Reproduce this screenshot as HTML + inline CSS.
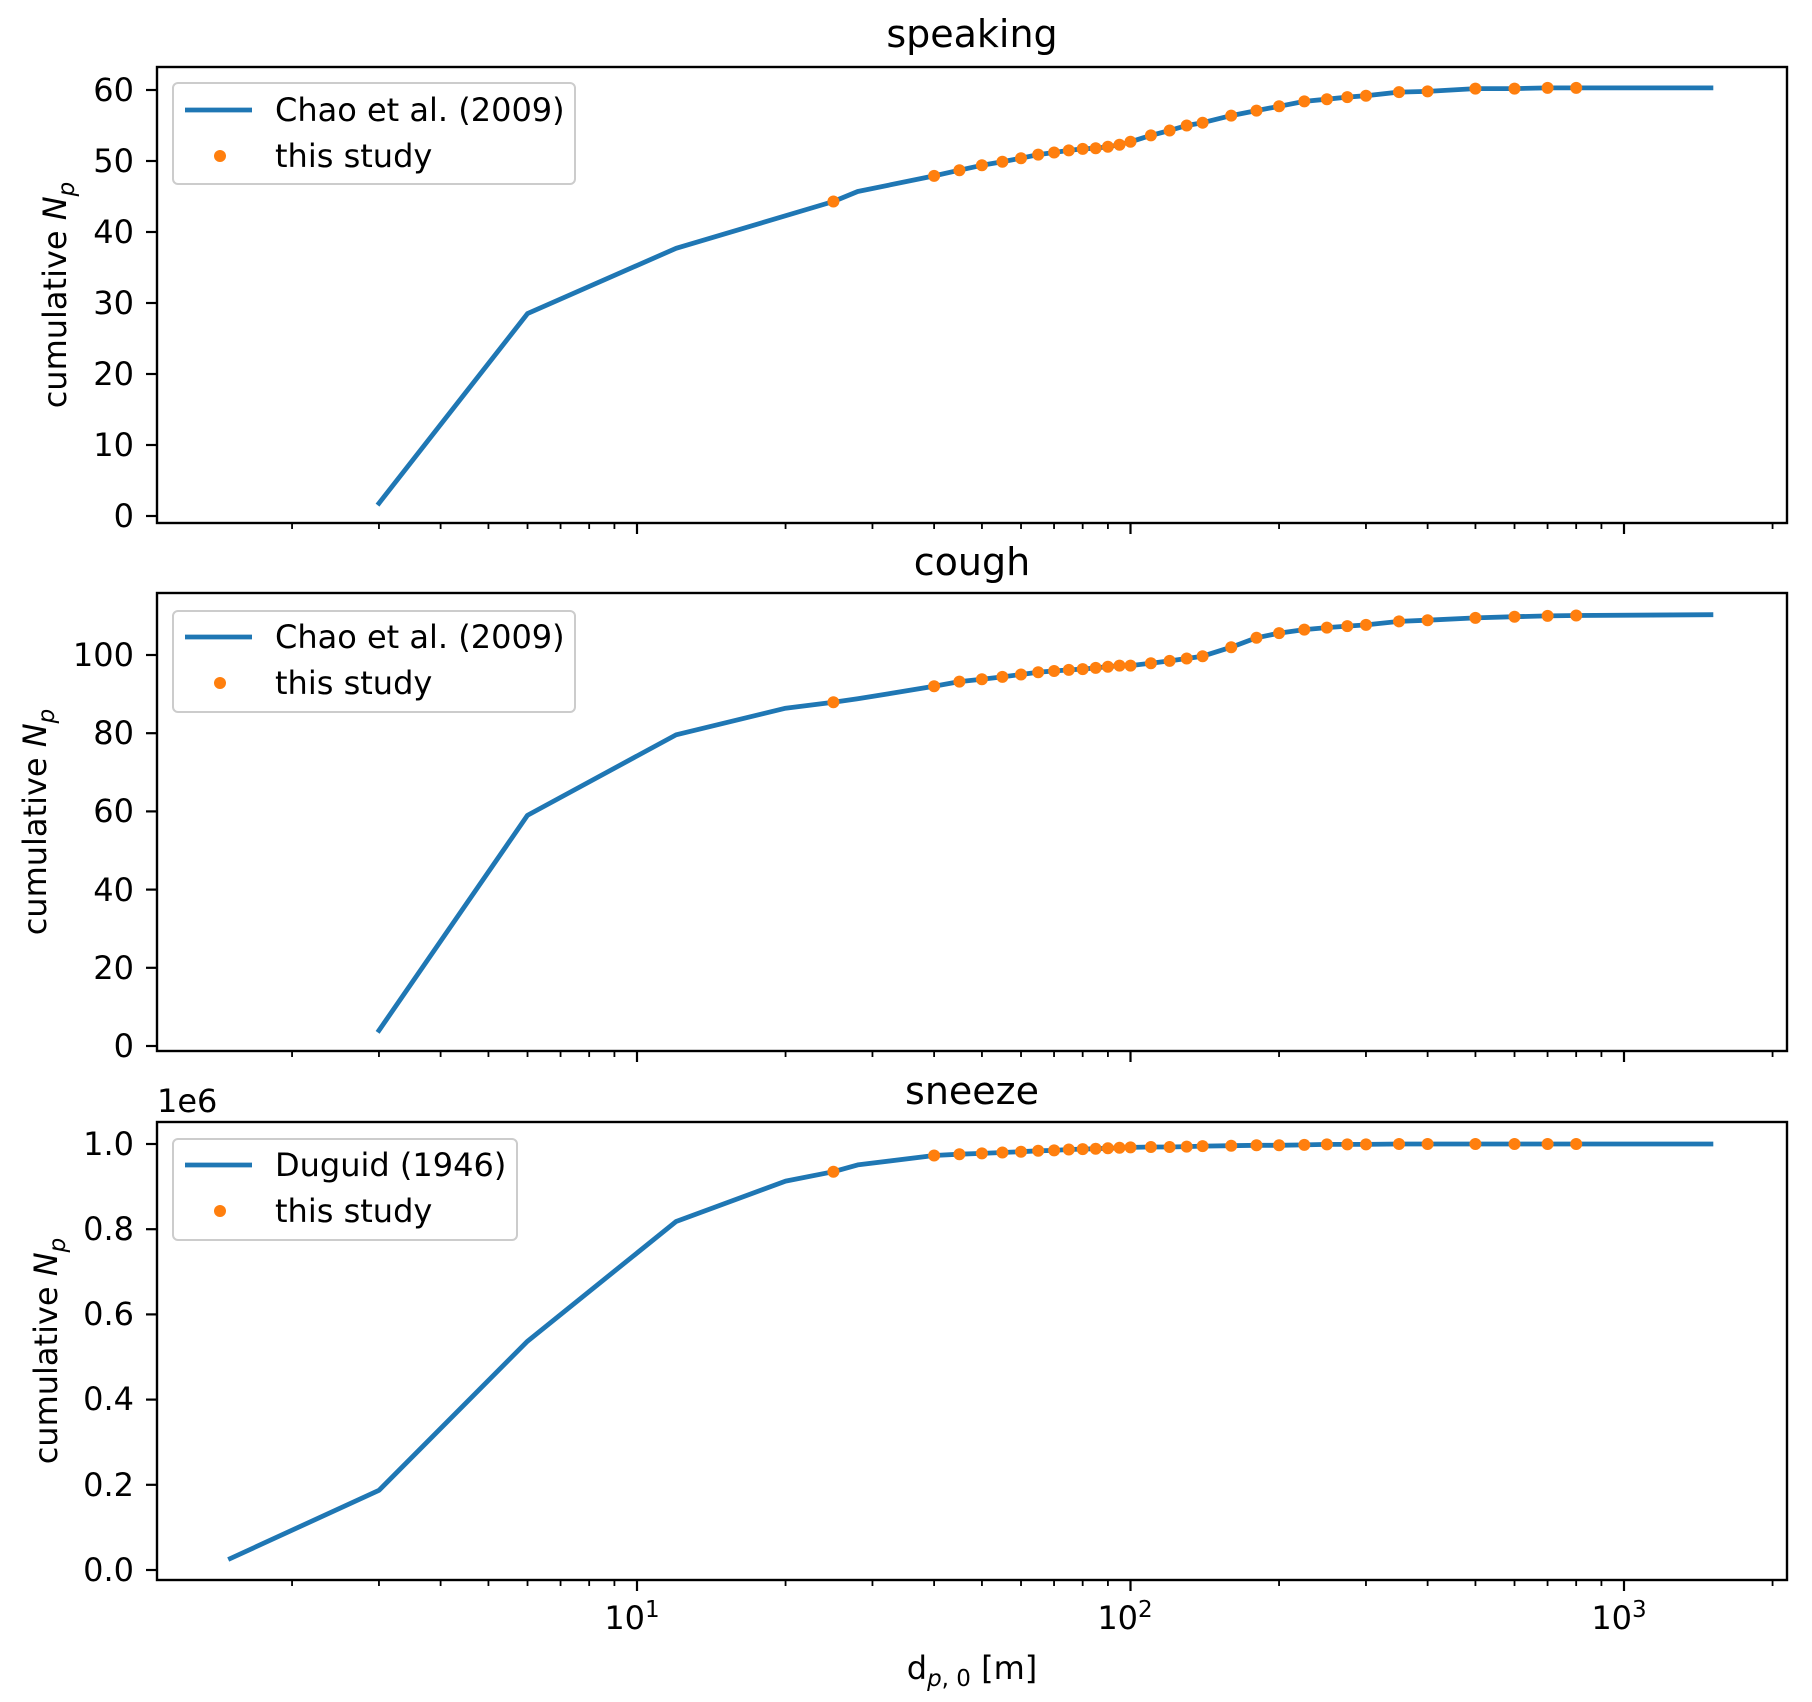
<!DOCTYPE html>
<html><head><meta charset="utf-8"><style>
html,body{margin:0;padding:0;background:#fff;}
svg{display:block;font-family:"DejaVu Sans","Liberation Sans",sans-serif;}
</style></head><body>
<svg id="s" width="1812" height="1702" viewBox="0 0 1812 1702" xmlns="http://www.w3.org/2000/svg">
<rect width="1812" height="1702" fill="#fff"/>
<g id="plots"></g>
<text x="972" y="47" font-size="38" text-anchor="middle" fill="#000">speaking</text>
<text x="972" y="575" font-size="38" text-anchor="middle" fill="#000">cough</text>
<text x="972" y="1104" font-size="38" text-anchor="middle" fill="#000">sneeze</text>
<text x="157" y="1112" font-size="32" fill="#000">1e6</text>
<g font-size="32" text-anchor="end" fill="#000">
<text x="134" y="101">60</text><text x="134" y="172">50</text><text x="134" y="243">40</text>
<text x="134" y="314">30</text><text x="134" y="385">20</text><text x="134" y="456">10</text><text x="134" y="527">0</text>
<text x="134" y="666">100</text><text x="134" y="744">80</text><text x="134" y="822">60</text>
<text x="134" y="901">40</text><text x="134" y="979">20</text><text x="134" y="1057">0</text>
<text x="134" y="1155">1.0</text><text x="134" y="1240">0.8</text><text x="134" y="1325">0.6</text>
<text x="134" y="1410">0.4</text><text x="134" y="1496">0.2</text><text x="134" y="1581">0.0</text>
</g>
<text transform="translate(66,295) rotate(-90)" font-size="32" text-anchor="middle" fill="#000">cumulative <tspan font-style="italic">N</tspan><tspan font-style="italic" font-size="23" dy="8">p</tspan></text>
<text transform="translate(46,822) rotate(-90)" font-size="32" text-anchor="middle" fill="#000">cumulative <tspan font-style="italic">N</tspan><tspan font-style="italic" font-size="23" dy="8">p</tspan></text>
<text transform="translate(57,1351) rotate(-90)" font-size="32" text-anchor="middle" fill="#000">cumulative <tspan font-style="italic">N</tspan><tspan font-style="italic" font-size="23" dy="8">p</tspan></text>
<g font-size="32" fill="#000" text-anchor="middle">
<text x="632" y="1629">10<tspan font-size="23" dy="-12">1</tspan></text>
<text x="1125" y="1629">10<tspan font-size="23" dy="-12">2</tspan></text>
<text x="1619" y="1629">10<tspan font-size="23" dy="-12">3</tspan></text>
</g>
<text x="972" y="1679" font-size="32" text-anchor="middle" fill="#000">d<tspan font-size="23" dy="7" font-style="italic">p</tspan><tspan font-size="23">, 0</tspan><tspan dy="-7"> [m]</tspan></text>
<g font-size="32" fill="#000">
<rect x="173" y="83" width="402" height="101" rx="5" fill="#fff" fill-opacity="0.8" stroke="#ccc" stroke-width="2"/>
<line x1="185" y1="110" x2="252" y2="110" stroke="#1f77b4" stroke-width="4.8"/>
<circle cx="220" cy="156" r="6" fill="#ff7f0e"/>
<text x="275" y="121">Chao et al. (2009)</text><text x="275" y="167">this study</text>
<rect x="173" y="611" width="402" height="101" rx="5" fill="#fff" fill-opacity="0.8" stroke="#ccc" stroke-width="2"/>
<line x1="185" y1="637" x2="252" y2="637" stroke="#1f77b4" stroke-width="4.8"/>
<circle cx="220" cy="683" r="6" fill="#ff7f0e"/>
<text x="275" y="648">Chao et al. (2009)</text><text x="275" y="694">this study</text>
<rect x="173" y="1139" width="344" height="101" rx="5" fill="#fff" fill-opacity="0.8" stroke="#ccc" stroke-width="2"/>
<line x1="185" y1="1165" x2="252" y2="1165" stroke="#1f77b4" stroke-width="4.8"/>
<circle cx="220" cy="1211" r="6" fill="#ff7f0e"/>
<text x="275" y="1176">Duguid (1946)</text><text x="275" y="1222">this study</text>
</g>
</svg>
<script>
(function(){
var NS="http://www.w3.org/2000/svg",g=document.getElementById('plots');
function el(n,a){var e=document.createElementNS(NS,n);for(var k in a)e.setAttribute(k,a[k]);g.appendChild(e);return e;}
function X(v){return 637+493.5*(Math.log10(v)-1);}
var L=157,R=1787;
var panels=[
 {top:67,bot:523,y:function(v){return 516-v*426/60;},ticks:[0,10,20,30,40,50,60],
  line:[[3,1.8],[6,28.5],[12,37.7],[25,44.3],[28,45.7],[40,47.9]],
  dots:[[25,44.3],[40,47.9],[45,48.7],[50,49.4],[55,49.9],[60,50.4],[65,50.9],[70,51.2],[75,51.5],[80,51.7],[85,51.8],[90,52],[95,52.3],[100,52.7],[110,53.6],[120,54.3],[130,55],[140,55.4],[160,56.4],[180,57.1],[200,57.7],[225,58.4],[250,58.7],[275,59],[300,59.2],[350,59.7],[400,59.8],[500,60.2],[600,60.2],[700,60.3],[800,60.3]],end:[1500,60.3]},
 {top:593,bot:1051,y:function(v){return 1046-v*3.91;},ticks:[0,20,40,60,80,100],
  line:[[3,4],[6,59],[12,79.6],[20,86.4],[25,87.9],[28,88.8],[40,92]],
  dots:[[25,87.9],[40,92],[45,93.2],[50,93.8],[55,94.4],[60,95],[65,95.6],[70,95.9],[75,96.2],[80,96.4],[85,96.7],[90,97],[95,97.3],[100,97.3],[110,97.9],[120,98.5],[130,99.1],[140,99.7],[160,102],[180,104.4],[200,105.6],[225,106.5],[250,107],[275,107.4],[300,107.7],[350,108.6],[400,108.9],[500,109.5],[600,109.8],[700,110],[800,110.1]],end:[1500,110.3]},
 {top:1122,bot:1580,y:function(v){return 1570-426*v;},ticks:[0,0.2,0.4,0.6,0.8,1.0],
  line:[[1.5,0.027],[3,0.187],[6,0.537],[12,0.818],[20,0.913],[25,0.935],[28,0.951],[40,0.973]],
  dots:[[25,0.935],[40,0.973],[45,0.976],[50,0.978],[55,0.98],[60,0.982],[65,0.984],[70,0.985],[75,0.987],[80,0.988],[85,0.989],[90,0.99],[95,0.991],[100,0.992],[110,0.993],[120,0.993],[130,0.994],[140,0.995],[160,0.996],[180,0.997],[200,0.997],[225,0.998],[250,0.999],[275,0.999],[300,0.999],[350,1],[400,1],[500,1],[600,1],[700,1],[800,1]],end:[1500,1.0]}
];
panels.forEach(function(p){
  var pts=p.line.slice();
  p.dots.forEach(function(d){if(d[0]>40)pts.push(d);});
  pts.push(p.end);
  var s=pts.map(function(q,i){return (i?'L':'M')+X(q[0]).toFixed(1)+','+p.y(q[1]).toFixed(1);}).join('');
  el('path',{d:s,fill:'none',stroke:'#1f77b4','stroke-width':4.8,'stroke-linejoin':'round','stroke-linecap':'square'});
  p.dots.forEach(function(d){el('circle',{cx:X(d[0]).toFixed(1),cy:p.y(d[1]).toFixed(1),r:6,fill:'#ff7f0e'});});
  el('rect',{x:L,y:p.top,width:R-L,height:p.bot-p.top,fill:'none',stroke:'#000','stroke-width':2.4});
  p.ticks.forEach(function(t){var y=p.y(t);el('line',{x1:L-11,x2:L,y1:y,y2:y,stroke:'#000','stroke-width':2.2});});
  [1,10,100,1000].forEach(function(dec){
    for(var m=1;m<10;m++){var v=dec*m,x=X(v);if(x<L||x>R)continue;
      var len=(m==1)?11:6;
      el('line',{x1:x,x2:x,y1:p.bot,y2:p.bot+len,stroke:'#000','stroke-width':(m==1)?2.2:1.8});}
  });
});
})();
</script>
</body></html>
